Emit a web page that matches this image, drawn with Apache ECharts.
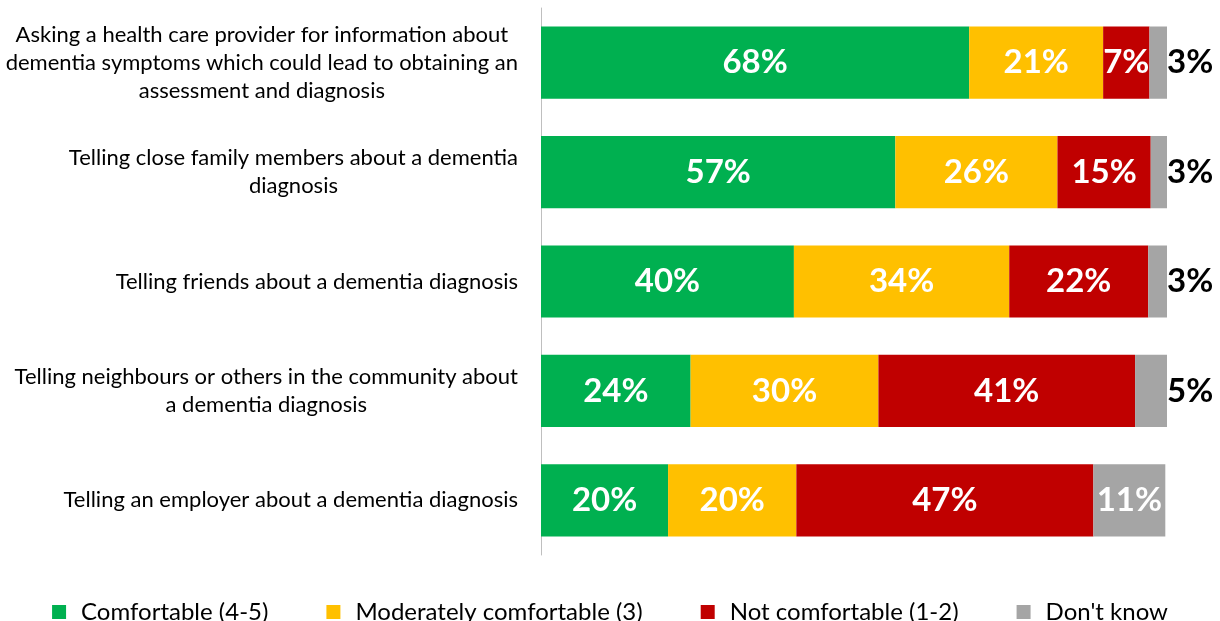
<!DOCTYPE html>
<html>
<head>
<meta charset="utf-8">
<script src="https://cdn.jsdelivr.net/npm/echarts@6/dist/echarts.min.js"></script>
<style>
    html, body { margin: 0; padding: 0; background: #fff; }
    #chart { width: 1220px; height: 621px; }
</style>
</head>
<body>
<div id="chart"></div>
<script>
const varFont = 'Lato';

// categories, top to bottom
const categories = [
    'Asking a health care provider for information about\ndementia symptoms which could lead to obtaining an\nassessment and diagnosis',
    'Telling close family members about a dementia\ndiagnosis',
    'Telling friends about a dementia diagnosis',
    'Telling neighbours or others in the community about\na dementia diagnosis',
    'Telling an employer about a dementia diagnosis'
];

// shares (%)
const comfortable = [68.4, 56.6, 40.4, 23.9, 20.3];
const moderately = [21.4, 25.9, 34.4, 30.0, 20.49];
const notComfortable = [7.4, 14.9, 22.2, 41.0, 47.45];
const dontKnow = [2.8, 2.6, 3.0, 5.1, 11.49];

// which "Don't know" labels sit outside the bar
const dontKnowOutside = [true, true, true, true, false];

const seriesNames = ['Comfortable (4-5)', 'Moderately comfortable (3)', 'Not comfortable (1-2)', "Don't know"];
const seriesColors = ['#00B050', '#FFC000', '#C00000', '#A5A5A5'];

function pctLabel(p) {
    return Math.round(p.value) + '%';
}

function makeSeries(name, color, values, outsideFlags) {
    return {
        name: name,
        type: 'bar',
        stack: 'total',
        barCategoryGap: '34%',
        itemStyle: { color: color },
        label: {
            show: true,
            position: 'inside',
            color: '#fff',
            fontFamily: varFont,
            fontWeight: 'bold',
            fontSize: 33,
            formatter: pctLabel
        },
        data: values.map((v, i) => {
            if (outsideFlags && outsideFlags[i]) {
                return {
                    value: v,
                    label: { position: 'right', distance: 0, color: '#000' }
                };
            }
            return v;
        })
    };
}

var myChart = echarts.init(document.getElementById('chart'));

var option = {
    animation: false,
    textStyle: { fontFamily: varFont },
    grid: {
        left: 541,
        right: 53,
        top: 8,
        height: 547
    },
    legend: {
        top: 595,
        left: 'center',
        icon: 'rect',
        itemWidth: 14,
        itemHeight: 14,
        itemGap: 58,
        data: seriesNames,
        textStyle: {
            fontFamily: varFont,
            fontSize: 24,
            color: '#000',
            padding: [0, 0, 0, 10]
        }
    },
    xAxis: {
        type: 'value',
        min: 0,
        max: 100,
        show: false
    },
    yAxis: {
        type: 'category',
        inverse: true,
        data: categories,
        axisLine: { show: true, lineStyle: { color: '#bfbfbf', width: 1 } },
        axisTick: { show: false },
        axisLabel: {
            margin: 23,
            align: 'right',
            formatter: function (v) {
                return '{c|' + v + '}';
            },
            rich: {
                c: {
                    align: 'center',
                    fontFamily: varFont,
                    fontSize: 22,
                    lineHeight: 28,
                    color: '#000'
                }
            }
        }
    },
    series: [
        makeSeries(seriesNames[0], seriesColors[0], comfortable),
        makeSeries(seriesNames[1], seriesColors[1], moderately),
        makeSeries(seriesNames[2], seriesColors[2], notComfortable),
        makeSeries(seriesNames[3], seriesColors[3], dontKnow, dontKnowOutside)
    ]
};

myChart.setOption(option);
</script>
</body>
</html>
